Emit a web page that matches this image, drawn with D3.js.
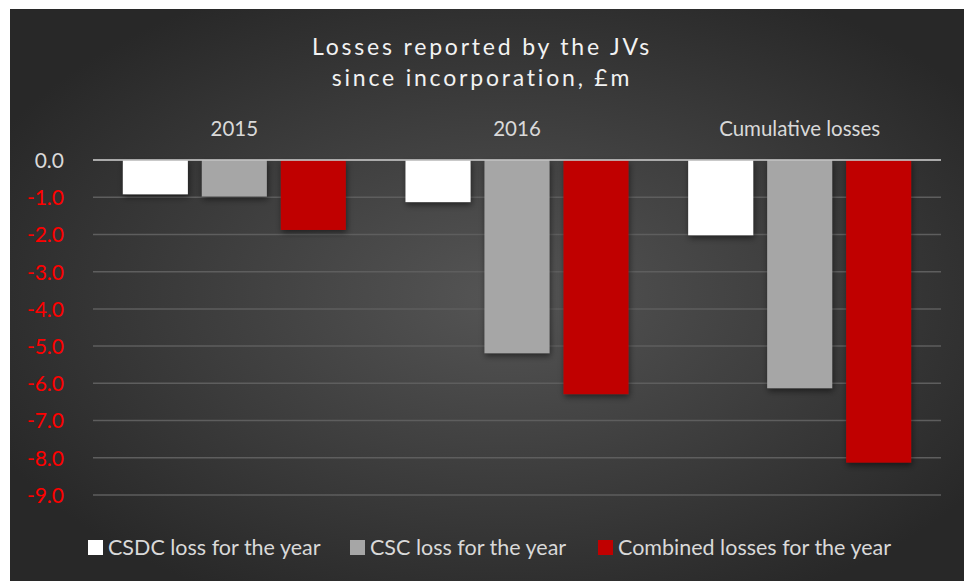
<!DOCTYPE html>
<html>
<head>
<meta charset="utf-8">
<script src="https://cdn.jsdelivr.net/npm/d3@7"></script>
<style>
  html, body { margin: 0; padding: 0; background: #fff; }
  svg { display: block; }
</style>
</head>
<body>
<div id="chart"></div>
<script>
// chart values
const categories = ["2015", "2016", "Cumulative losses"];
const seriesNames = ["CSDC loss for the year", "CSC loss for the year", "Combined losses for the year"];
const csdc = [-0.92, -1.13, -2.02];
const csc = [-0.98, -5.19, -6.13];
const combined = [-1.88, -6.29, -8.13];
const yTicks = [0, -1, -2, -3, -4, -5, -6, -7, -8, -9];

const colors = ["#ffffff", "#a6a6a6", "#c00000"];
const series = [csdc, csc, combined];

const width = 964, height = 581;
const plot = { left: 93, right: 941, top: 160, bottom: 495 };
const font = "Lato, 'Open Sans', sans-serif";

const svg = d3.select("#chart").append("svg")
    .attr("width", width)
    .attr("height", height);

// background card with radial gradient
const defs = svg.append("defs");
const grad = defs.append("radialGradient")
    .attr("id", "bg")
    .attr("cx", "52%").attr("cy", "50%").attr("r", "60%");
grad.append("stop").attr("offset", "0%").attr("stop-color", "#555555");
grad.append("stop").attr("offset", "100%").attr("stop-color", "#282828");

const shadow = defs.append("filter").attr("id", "shadow")
    .attr("x", "-20%").attr("y", "-20%").attr("width", "150%").attr("height", "150%");
shadow.append("feDropShadow")
    .attr("dx", 1).attr("dy", 3).attr("stdDeviation", 3)
    .attr("flood-color", "#000").attr("flood-opacity", 0.5);

svg.append("rect")
    .attr("x", 10).attr("y", 9)
    .attr("width", width - 10).attr("height", height - 9)
    .attr("fill", "url(#bg)");

// title
const title = svg.append("text")
    .attr("text-anchor", "middle")
    .attr("fill", "#f2f2f2")
    .style("font-family", font)
    .style("font-size", "23px")
    .style("letter-spacing", "2.8px");
title.append("tspan").attr("x", 482).attr("y", 55).text("Losses reported by the JVs");
title.append("tspan").attr("x", 482).attr("y", 86).text("since incorporation, £m");

// scales
const x0 = d3.scaleBand()
    .domain(categories)
    .range([plot.left, plot.right]);

const x1 = d3.scaleBand()
    .domain(d3.range(series.length))
    .range([0, x0.bandwidth()])
    .paddingInner(0.177)
    .paddingOuter(0.378);

const y = d3.scaleLinear()
    .domain([0, -9])
    .range([plot.top, plot.bottom]);

// gridlines
svg.append("g")
    .selectAll("line")
    .data(yTicks.filter(d => d !== 0))
    .enter().append("line")
    .attr("x1", plot.left).attr("x2", plot.right)
    .attr("y1", d => y(d)).attr("y2", d => y(d))
    .attr("stroke", "#5e5e5e")
    .attr("stroke-width", 1.5);

// y axis labels
const yAxis = svg.append("g")
    .attr("transform", "translate(" + (plot.left - 29) + ",0)")
    .call(d3.axisLeft(y).tickValues(yTicks).tickSize(0).tickFormat(d3.format(".1f")));
yAxis.select(".domain").remove();
yAxis.selectAll("text")
    .attr("x", 0)
    .attr("dy", "0.35em")
    .style("font-family", font)
    .style("font-size", "21px")
    .attr("fill", d => d === 0 ? "#d9d9d9" : "#ff0000")
    .text(d => d === 0 ? "0.0" : d3.format(".1f")(d).replace("−", "-"));

// category labels at top
svg.append("g")
    .selectAll("text")
    .data(categories)
    .enter().append("text")
    .attr("x", d => x0(d) + x0.bandwidth() / 2)
    .attr("y", 136)
    .attr("text-anchor", "middle")
    .attr("fill", "#d9d9d9")
    .style("font-family", font)
    .style("font-size", "20.5px")
    .text(d => d);

// bars
const groups = svg.append("g")
    .selectAll("g")
    .data(categories)
    .enter().append("g")
    .attr("transform", d => "translate(" + x0(d) + ",0)");

groups.selectAll("rect")
    .data((d, i) => series.map((s, j) => ({ j: j, v: s[i] })))
    .enter().append("rect")
    .attr("x", d => x1(d.j))
    .attr("y", y(0))
    .attr("width", x1.bandwidth())
    .attr("height", d => y(d.v) - y(0))
    .attr("fill", d => colors[d.j])
    .attr("filter", "url(#shadow)");

// zero line
svg.append("line")
    .attr("x1", plot.left).attr("x2", plot.right)
    .attr("y1", y(0)).attr("y2", y(0))
    .attr("stroke", "#bfbfbf")
    .attr("stroke-opacity", 0.85)
    .attr("stroke-width", 2);

// legend
const legendX = [88, 350, 598];
const legend = svg.append("g")
    .selectAll("g")
    .data(seriesNames)
    .enter().append("g")
    .attr("transform", (d, i) => "translate(" + legendX[i] + ",540)");
legend.append("rect")
    .attr("width", 15).attr("height", 15)
    .attr("fill", (d, i) => colors[i]);
legend.append("text")
    .attr("x", 20).attr("y", 15)
    .attr("fill", "#d9d9d9")
    .style("font-family", font)
    .style("font-size", "21.5px")
    .text(d => d);
</script>
</body>
</html>
